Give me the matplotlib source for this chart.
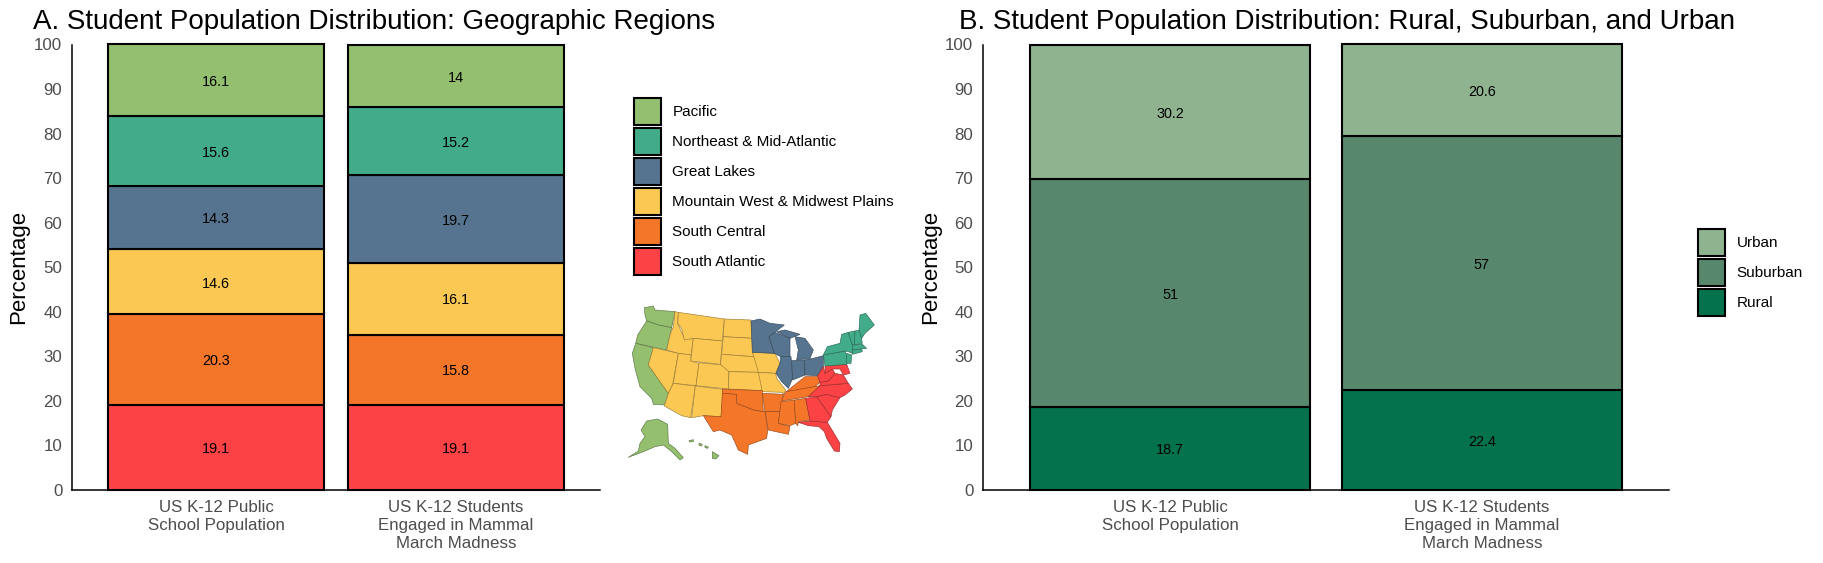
import matplotlib
matplotlib.use("Agg")
import matplotlib.pyplot as plt
from matplotlib.colors import to_rgb
from matplotlib.patches import Patch, Polygon

plt.rcParams['font.family'] = ['Liberation Sans', 'DejaVu Sans']

W, H = 1823, 563
categories = ["US K-12 Public\nSchool Population",
              "US K-12 Students\nEngaged in Mammal\nMarch Madness"]

regions = ["South Atlantic", "South Central", "Mountain West & Midwest Plains",
           "Great Lakes", "Northeast & Mid-Atlantic", "Pacific"]
region_public = [19.1, 20.3, 14.6, 14.3, 15.6, 16.1]
region_mammal = [19.1, 15.8, 16.1, 19.7, 15.2, 14]
region_colors = ["#FB4345", "#F47629", "#FBC853", "#56748F", "#42AB8A", "#93BF6E"]

locales = ["Rural", "Suburban", "Urban"]
locale_public = [18.7, 51, 30.2]
locale_mammal = [22.4, 57, 20.6]
locale_colors = ["#04734D", "#57876D", "#8FB38E"]

yticks = list(range(0, 101, 10))

# simplified state outlines: region, west-crop points / east-crop points (x offset applied below)
E = 360
def e(*pts):
    return [(x + E, y) for x, y in pts]

states = [
 ("Pacific", [(58,38),(85,33),(90,45),(150,50),(140,98),(100,90),(65,78),(60,60)]),
 ("Pacific", [(65,78),(100,90),(140,98),(135,120),(125,165),(32,145),(38,120)]),
 ("Pacific", [(32,145),(85,158),(70,210),(130,295),(120,330),(85,328),(80,310),(45,275),(30,220),(22,175)]),
 ("Pacific", [(65,378),(98,372),(128,388),(130,445),(150,460),(175,488),(165,495),(140,470),(115,450),(90,455),(55,470),(10,487),(40,468),(45,445),(60,425),(48,405)]),
 ("Pacific", [(262,470),(282,482),(272,492),(262,490)]),
 ("Pacific", [(222,445),(232,448),(230,453),(222,451)]),
 ("Pacific", [(240,452),(250,456),(248,460),(240,458)]),
 ("Pacific", [(192,437),(205,434),(205,440),(194,441)]),
 ("Mountain West & Midwest Plains", [(85,158),(160,175),(143,268),(130,295),(70,210)]),
 ("Mountain West & Midwest Plains", [(150,50),(160,52),(158,85),(178,130),(205,132),(198,180),(160,175),(125,165),(135,120),(145,95)]),
 ("Mountain West & Midwest Plains", [(160,52),(298,72),(292,138),(205,130),(178,135),(170,100),(158,85)]),
 ("Mountain West & Midwest Plains", [(205,130),(292,138),(286,208),(197,198)]),
 ("Mountain West & Midwest Plains", [(160,175),(198,180),(197,198),(222,205),(213,272),(145,265)]),
 ("Mountain West & Midwest Plains", [(222,203),(312,212),(310,282),(213,272)]),
 ("Mountain West & Midwest Plains", [(145,265),(211,273),(197,368),(170,362),(118,333),(130,295)]),
 ("Mountain West & Midwest Plains", [(211,273),(295,283),(288,365),(235,362),(200,368)]),
 ("Mountain West & Midwest Plains", [(298,72),(378,75),(385,130),(295,125)]),
 ("Mountain West & Midwest Plains", [(295,125),(385,130),(385,185),(290,178)]),
 ("Mountain West & Midwest Plains", [(290,178),(385,185),(395,190),(405,232),(312,230),(286,208)]),
 ("Mountain West & Midwest Plains", [(312,230),(405,232),(412,287),(310,282)]),
 ("Mountain West & Midwest Plains", e((22,172),(90,175),(105,205),(92,235),(40,232),(28,190))),
 ("Mountain West & Midwest Plains", e((40,232),(92,235),(95,250),(122,285),(115,298),(112,292),(52,290))),
 ("Great Lakes", e((18,78),(45,72),(75,85),(118,90),(72,125),(88,175),(22,172))),
 ("Great Lakes", e((72,125),(90,112),(135,130),(135,190),(107,185),(88,175))),
 ("Great Lakes", e((107,185),(138,185),(143,250),(130,280),(110,260),(93,235),(105,205))),
 ("Great Lakes", e((150,125),(180,130),(205,165),(195,190),(155,195),(160,165))),
 ("Great Lakes", e((95,110),(120,105),(165,118),(135,130))),
 ("Great Lakes", e((140,197),(178,195),(180,240),(143,255))),
 ("Great Lakes", e((178,195),(205,190),(235,182),(235,215),(218,242),(180,240))),
 ("South Central", e((130,285),(180,245),(218,245),(225,262),(205,278),(125,290))),
 ("South Central", e((122,290),(225,272),(210,290),(190,305),(108,318))),
 ("South Central", e((52,295),(115,298),(105,350),(60,350))),
 ("South Central", e((60,350),(105,350),(100,385),(135,395),(130,418),(70,405))),
 ("South Central", e((108,320),(148,315),(152,385),(135,392),(100,385))),
 ("South Central", e((148,315),(182,310),(195,375),(160,380),(158,392),(152,385))),
 ("South Central", [(292,282),(412,287),(415,350),(385,345),(335,325),(334,298),(292,295)]),
 ("South Central", [(292,295),(334,298),(335,325),(385,345),(415,350),(420,348),(428,405),(425,430),(370,450),(368,478),(340,465),(320,420),(285,405),(265,410),(235,362),(288,365)]),
 ("South Atlantic", e((160,382),(195,378),(247,382),(258,400),(285,445),(283,470),(268,468),(245,430),(238,410),(222,395),(190,392))),
 ("South Atlantic", e((182,310),(215,305),(258,365),(247,382),(195,378))),
 ("South Atlantic", e((215,305),(245,298),(285,308),(262,345),(258,365))),
 ("South Atlantic", e((225,272),(310,265),(322,282),(300,300),(285,308),(245,298),(215,305),(190,305))),
 ("South Atlantic", e((225,262),(250,258),(270,235),(295,240),(310,265),(225,272))),
 ("South Atlantic", e((218,242),(235,215),(240,235),(262,222),(270,235),(250,258),(225,262))),
 ("South Atlantic", e((240,213),(305,208),(315,235),(295,240),(285,222),(262,222),(240,235))),
 ("Northeast & Mid-Atlantic", e((235,180),(300,168),(310,195),(305,208),(240,213))),
 ("Northeast & Mid-Atlantic", e((247,155),(285,145),(290,118),(310,112),(322,150),(322,175),(310,170),(300,168),(235,180))),
 ("Northeast & Mid-Atlantic", e((305,175),(320,180),(318,205),(305,205))),
 ("Northeast & Mid-Atlantic", e((310,112),(330,108),(328,150),(322,150))),
 ("Northeast & Mid-Atlantic", e((330,108),(345,105),(352,145),(328,150))),
 ("Northeast & Mid-Atlantic", e((345,60),(362,55),(388,90),(360,115),(350,130),(342,105))),
 ("Northeast & Mid-Atlantic", e((322,150),(352,148),(365,160),(322,165))),
 ("Northeast & Mid-Atlantic", e((322,165),(350,162),(352,170),(322,178))),
]

fig = plt.figure(figsize=(W / 100, H / 100), dpi=100, facecolor="white")

def make_axes(x0, x1, top, bottom):
    return fig.add_axes([x0 / W, 1 - bottom / H, (x1 - x0) / W, (bottom - top) / H])

def stacked(ax, names, series, colors, title, title_x, ylabel_x, legend_xy):
    positions = [1, 2]
    for pos, values in zip(positions, series):
        base = 0
        for name, v, c in zip(names, values, colors):
            ax.bar(pos, v, 0.9, bottom=base, color=c, edgecolor="black",
                   linewidth=1.5, clip_on=False, zorder=2)
            ax.text(pos, base + v / 2 - 0.4, f"{v:g}", ha="center", va="center",
                    fontsize=10.4, color="black", zorder=3)
            base += v
    ax.set_xlim(0.4, 2.6)
    ax.set_ylim(0, 100)
    ax.set_yticks(yticks)
    ax.set_xticks(positions, categories, linespacing=1.27)
    ax.tick_params(axis="both", length=0, labelsize=12.2, labelcolor="#4D4D4D")
    ax.tick_params(axis="y", pad=7)
    ax.tick_params(axis="x", pad=7)
    for s in ("top", "right"):
        ax.spines[s].set_visible(False)
    for s in ("left", "bottom"):
        ax.spines[s].set_linewidth(1.1)
        ax.spines[s].set_color("black")
    fig.text(title_x / W, 1 - 22 / H, title, fontsize=20, color="black",
             ha="left", va="center")
    fig.text(ylabel_x / W, 1 - 267 / H, "Percentage", fontsize=16, rotation=90,
             ha="center", va="center", color="black")
    handles = [Patch(facecolor=c, edgecolor="black", linewidth=1.5, label=n)
               for n, c in zip(names, colors)][::-1]
    fs = 11
    px = fs * 100 / 72
    he = (26.7 / px - 0.245) / 0.65
    fig.legend(handles=handles, loc="upper left",
               bbox_to_anchor=(legend_xy[0] / W, 1 - legend_xy[1] / H),
               frameon=False, fontsize=fs, borderpad=0, borderaxespad=0,
               handlelength=26.7 / px, handleheight=he,
               labelspacing=3.3 / px, handletextpad=11.7 / px)

ax_a = make_axes(72, 600, 44.5, 490)
stacked(ax_a, regions, [region_public, region_mammal], region_colors,
        "A. Student Population Distribution: Geographic Regions", 33, 19, (634, 98))

ax_b = make_axes(983, 1669, 44.5, 490)
stacked(ax_b, locales, [locale_public, locale_mammal], locale_colors,
        "B. Student Population Distribution: Rural, Suburban, and Urban", 959, 931, (1698, 229))

# map overlay in figure pixels
ax_m = fig.add_axes([0, 0, 1, 1], zorder=-1)
ax_m.set_xlim(0, W)
ax_m.set_ylim(H, 0)
ax_m.axis("off")
color_of = dict(zip(regions, region_colors))
for region, pts in states:
    xy = [(625 + x / 3, 295 + y / 3) for x, y in pts]
    c = color_of[region]
    dark = tuple(v * 0.62 for v in to_rgb(c))
    ax_m.add_patch(Polygon(xy, closed=True, facecolor=c, edgecolor=dark,
                           linewidth=0.45, joinstyle="round"))

fig.savefig("out.png", dpi=100, facecolor="white")
